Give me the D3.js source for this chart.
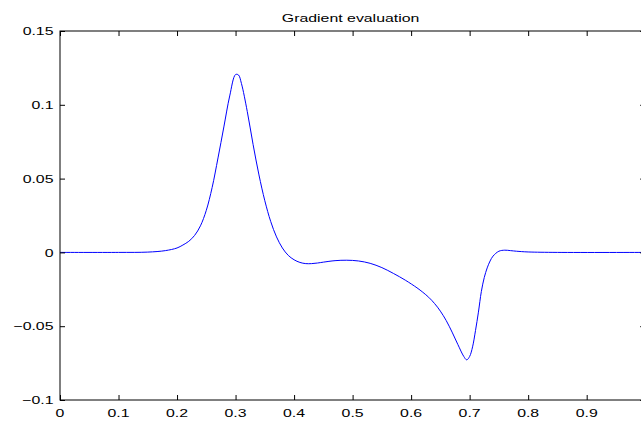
<!DOCTYPE html>
<html><head><meta charset="utf-8">
<script src="https://cdn.jsdelivr.net/npm/d3@7"></script>
<style>body{margin:0;background:#fff}svg{display:block}</style>
</head><body>
<script>
const title = "Gradient evaluation";
const xTicks = [0, 0.1, 0.2, 0.3, 0.4, 0.5, 0.6, 0.7, 0.8, 0.9];
const xTickLabels = ["0","0.1","0.2","0.3","0.4","0.5","0.6","0.7","0.8","0.9"];
const yTicks = [-0.1, -0.05, 0, 0.05, 0.1, 0.15];
const yTickLabels = ["\u22120.1","\u22120.05","0","0.05","0.1","0.15"];
const xs = [0, 0.1, 0.15, 0.18, 0.2, 0.21, 0.22, 0.23, 0.24, 0.25, 0.26, 0.27, 0.28, 0.29, 0.30, 0.305, 0.31, 0.32, 0.33, 0.34, 0.35, 0.36, 0.37, 0.38, 0.39, 0.40, 0.41, 0.42, 0.43, 0.44, 0.45, 0.47, 0.49, 0.51, 0.53, 0.55, 0.57, 0.59, 0.61, 0.62, 0.63, 0.64, 0.65, 0.66, 0.67, 0.68, 0.69, 0.695, 0.70, 0.705, 0.71, 0.715, 0.72, 0.725, 0.73, 0.735, 0.74, 0.75, 0.76, 0.77, 0.78, 0.80, 0.85, 1.0];
const ys = [0, 0, 0.0002, 0.0012, 0.0030, 0.0050, 0.0075, 0.0115, 0.0180, 0.0285, 0.0440, 0.064, 0.085, 0.106, 0.1205, 0.1202, 0.1145, 0.0955, 0.0730, 0.0525, 0.0350, 0.0210, 0.0105, 0.0030, -0.0020, -0.0050, -0.0068, -0.0076, -0.0076, -0.0072, -0.0066, -0.0056, -0.0053, -0.0058, -0.0074, -0.0103, -0.0143, -0.0188, -0.0240, -0.0270, -0.0304, -0.0346, -0.0398, -0.0462, -0.0540, -0.0625, -0.0705, -0.0728, -0.0705, -0.0640, -0.0530, -0.0405, -0.0265, -0.0170, -0.0105, -0.0058, -0.0025, 0.0008, 0.0015, 0.0012, 0.0008, 0.0003, 0, 0];

const W = 641, H = 421;
const pL = 60, pR = 645.2, pT = 31, pB = 400;
const x = d3.scaleLinear().domain([0, 1]).range([pL, pR]);
const y = d3.scaleLinear().domain([-0.1, 0.15]).range([pB, pT]);
const SX = 1.38;
const fontFam = "'Liberation Sans', Arial, Helvetica, sans-serif";

const svg = d3.select("body").append("svg").attr("width", W).attr("height", H);

// curve
const data = xs.map((v, i) => [v, ys[i]]);
svg.append("path").datum(data)
  .attr("fill", "none").attr("stroke", "#0000ff").attr("stroke-width", 1)
  .attr("d", d3.line().x(d => x(d[0])).y(d => y(d[1])).curve(d3.curveCatmullRom.alpha(0.5)));

// box
svg.append("rect").attr("x", pL).attr("y", pT).attr("width", pR - pL).attr("height", pB - pT)
  .attr("fill", "none").attr("stroke", "#000").attr("stroke-width", 1);

// ticks via d3 axes (inward, no labels)
const tl = 5;
function styleAxis(g) {
  g.select(".domain").remove();
  g.selectAll("line").attr("stroke", "#000").attr("stroke-width", 1);
  g.selectAll("text").remove();
}
svg.append("g").attr("transform", `translate(0,${pB})`)
  .call(d3.axisBottom(x).tickValues(xTicks).tickSize(-tl)).call(styleAxis);
svg.append("g").attr("transform", `translate(0,${pT})`)
  .call(d3.axisTop(x).tickValues(xTicks).tickSize(-tl)).call(styleAxis);
svg.append("g").attr("transform", `translate(${pL},0)`)
  .call(d3.axisLeft(y).tickValues(yTicks).tickSize(-tl)).call(styleAxis);
svg.append("g").attr("transform", `translate(${pR},0)`)
  .call(d3.axisRight(y).tickValues(yTicks).tickSize(-tl)).call(styleAxis);

function txt(str, px, py, anchor, size) {
  svg.append("text").attr("transform", `translate(${px},${py}) scale(${SX},1)`)
    .attr("text-anchor", anchor).attr("font-family", fontFam).attr("font-size", size)
    .attr("fill", "#000").text(str);
}
xTicks.forEach((t, i) => txt(xTickLabels[i], x(t), 416.5, "middle", 11.5));
yTicks.forEach((t, i) => txt(yTickLabels[i], 53.5, y(t) + 4.2, "end", 11.5));
txt(title, (pL + pR) / 2 - 2, 22, "middle", 11.5);
</script>
</body></html>
